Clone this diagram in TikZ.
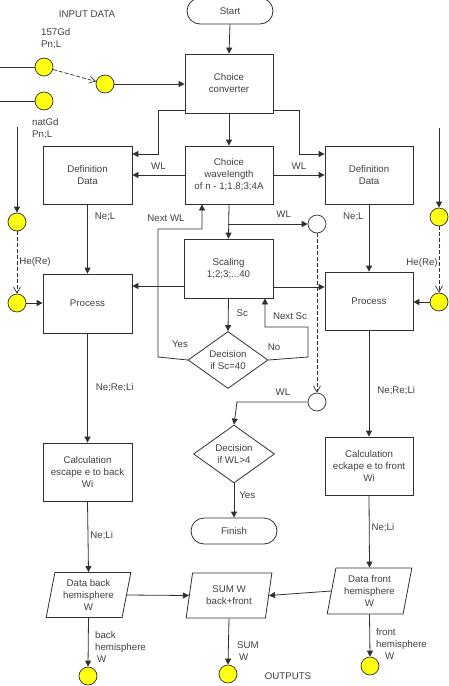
\documentclass[tikz,border=0pt]{standalone}
\usepackage{fontspec}
\setmainfont{Liberation Sans}
\usetikzlibrary{arrows.meta,shapes.geometric,shapes.misc}
\definecolor{linec}{HTML}{303030}
\definecolor{txtc}{HTML}{404040}
\definecolor{yel}{HTML}{FFFF10}
\tikzset{
  every node/.style={font=\fontsize{9.7}{12}\selectfont, text=txtc},
  box/.style={draw=linec, line width=0.8pt, align=center, minimum width=89pt, minimum height=58pt, inner sep=1pt},
  term/.style={draw=linec, line width=0.8pt, rounded rectangle, minimum width=88pt, minimum height=26pt, inner sep=1pt},
  dec/.style={draw=linec, line width=0.8pt, diamond, aspect=1.4, align=center, inner sep=0pt, minimum width=80pt, minimum height=57pt},
  io/.style={draw=linec, line width=0.8pt, trapezium, trapezium left angle=78, trapezium right angle=102, trapezium stretches=true, align=center, inner sep=0pt, minimum width=85pt, minimum height=45pt},
  ycirc/.style={draw=linec, line width=0.7pt, circle, fill=yel, minimum size=18pt, inner sep=0pt},
  wcirc/.style={draw=linec, line width=0.7pt, circle, fill=white, minimum size=18pt, inner sep=0pt},
  conn/.style={draw=linec, line width=0.8pt, -{Triangle[length=6pt,width=6pt]}},
  plain/.style={draw=linec, line width=0.8pt},
  dconn/.style={draw=linec, line width=0.7pt, dash pattern=on 4pt off 2pt, -{Straight Barb[length=6pt,width=7pt]}},
  lbl/.style={inner sep=0pt, align=left}
}
\begin{document}
\begin{tikzpicture}[x=1pt,y=-1pt]
\useasboundingbox (0,0) rectangle (448,686);

% main nodes
\node[term] (start) at (230,11) {Start};
\node[box, minimum width=88pt, minimum height=59pt] (conv) at (229,83.5) {Choice\\converter};
\node[box, minimum width=88pt] (wave) at (229,175) {Choice\\wavelength\\of n - 1;1.8;3;4A};
\node[box] (defL) at (87.5,175) {Definition\\Data};
\node[box, minimum width=88pt] (defR) at (369,175) {Definition\\Data};
\node[box, minimum height=59pt] (scal) at (228.5,268.5) {Scaling\\1;2;3;...40};
\node[box, minimum height=59pt] (procL) at (87.5,303.5) {Process};
\node[box, minimum width=88pt] (procR) at (369,301) {Process};
\node[box] (calcL) at (87.5,472) {Calculation\\escape e to back\\Wi};
\node[box, minimum width=88pt] (calcR) at (369,466) {Calculation\\eckape e to front\\Wi};
\node[dec] (dec1) at (228,360) {Decision\\if Sc=40};
\node[dec, minimum width=81pt, minimum height=58pt] (dec2) at (234,454) {Decision\\if WL>4};
\node[term] (finish) at (234,531) {Finish};
\node[wcirc] (wlc) at (317,224) {};
\node[wcirc] (wlc2) at (317,402) {};
\node[io] (backd) at (88.5,595) {Data back\\hemisphere\\W};
\node[io, minimum width=86pt] (sumd) at (229,595.5) {SUM W\\back+front};
\node[io, minimum height=46pt] (frontd) at (369.5,591) {Data front\\hemisphere\\W};

% yellow circles
\node[ycirc] (cA) at (44,67) {};
\node[ycirc] (cB) at (44,101) {};
\node[ycirc] (cC) at (105,84) {};
\node[ycirc] (cD) at (17,222) {};
\node[ycirc] (cE) at (17,303) {};
\node[ycirc] (cF) at (439,217) {};
\node[ycirc] (cG) at (439,302) {};
\node[ycirc] (o1) at (88,676) {};
\node[ycirc] (o2) at (228,674) {};
\node[ycirc] (o3) at (370,666) {};

% free ends
\coordinate (inA) at (0,67);
\coordinate (inB) at (0,101);
\coordinate (inD) at (17,127);
\coordinate (inF) at (439,128);

% texts
\node[lbl] at (87,14) {INPUT DATA};
\node[lbl, anchor=west] at (41,39) {157Gd\\Pn;L};
\node[lbl, anchor=west] at (32,129) {natGd\\Pn;L};
\node[lbl] at (35,262) {He(Re)};
\node[lbl] at (422,263) {He(Re)};
\node[lbl] at (288,676) {OUTPUTS};

% connectors
\draw[conn] (start.south) -- (conv.north);
\draw[conn] (conv.south) -- (wave.north);
\draw[conn] (conv.west |- 0,110) -- (158,110) -- (158,154) -- (defL.east |- 0,154);
\draw[conn] (conv.east |- 0,110) -- (299,110) -- (299,154) -- (defR.west |- 0,154);
\draw[conn] (wave.west) -- node[lbl, above=5pt] {WL} (defL.east);
\draw[conn] (wave.east) -- node[lbl, above=5pt] {WL} (defR.west);
\draw[conn] (wave.south) -- (scal.north);
\draw[conn] (228,224) -- node[lbl, above=6pt, pos=0.7] {WL} (wlc.west);
\draw[conn] (dec1.west) -- (158,357) -- (158,229) -- (202,229) -- (wave.south -| 202,0);
\node[lbl] at (166,218) {Next WL};
\node[lbl] at (180,344) {Yes};
\draw[conn] (dec1.east) -- (308,357) -- (308,327) -- (265,327) -- (scal.south -| 265,0);
\node[lbl] at (290,316) {Next Sc};
\node[lbl] at (274,347) {No};
\draw[conn] (scal.south) -- node[lbl, right=8pt, pos=0.45] {Sc} (dec1.north);
\draw[conn] (scal.west |- 0,286) -- (procL.east |- 0,286);
\draw[conn] (scal.east |- 0,287) -- (procR.west |- 0,287);
\draw[conn] (defL.south) -- node[lbl, right=7pt, pos=0.18] {Ne;L} (procL.north);
\draw[conn] (defR.south) -- node[lbl, left=5pt, pos=0.18] {Ne;L} (procR.north);

\draw[plain] (inA) -- (cA.west);
\draw[plain] (inB) -- (cB.west);
\draw[dconn] (cA) -- (cC);
\draw[conn] (cC.east) -- (conv.west |- cC.east);
\draw[conn] (inD) -- (cD.north);
\draw[conn] (inF) -- (cF.north);
\draw[dconn] (cD.south) -- (cE.north);
\draw[dconn] (cF.south) -- (cG.north);
\draw[conn] (cE.east) -- (procL.west |- cE.east);
\draw[conn] (cG.west) -- (procR.east |- cG.west);

\draw[conn] (procL.south) -- node[lbl, right=8pt, pos=0.5] {Ne;Re;Li} (calcL.north);
\draw[conn] (procR.south) -- node[lbl, right=8pt, pos=0.57] {Ne;Re;Li} (calcR.north);

\draw[dconn] (wlc.south) -- (wlc2.north);
\draw[conn] (wlc2.west) -- node[lbl, above=6pt, pos=0.35] {WL} (237,402) -- (dec2.north);
\draw[conn] (dec2.south) -- node[lbl, right=5pt, pos=0.35] {Yes} (finish.north);

\draw[conn] (calcL.south) -- node[lbl, right=2pt, pos=0.48] {Ne;Li} (backd.north);
\draw[conn] (calcR.south) -- node[lbl, right=2pt, pos=0.45] {Ne;Li} (frontd.north);
\draw[conn] (backd.east) -- (sumd.west);
\draw[conn] (frontd.west) -- (sumd.east);
\draw[conn] (backd.south) -- (o1.north);
\draw[conn] (sumd.south) -- (o2.north);
\draw[conn] (frontd.south) -- (o3.north);
\node[lbl, anchor=west] at (95,647) {back\\hemisphere\\\hspace{2pt}W};
\node[lbl, anchor=west] at (237,651) {SUM\\\hspace{2pt}W};
\node[lbl, anchor=west] at (376,644) {front\\hemisphere\\\hspace{9pt}W};
\end{tikzpicture}
\end{document}
